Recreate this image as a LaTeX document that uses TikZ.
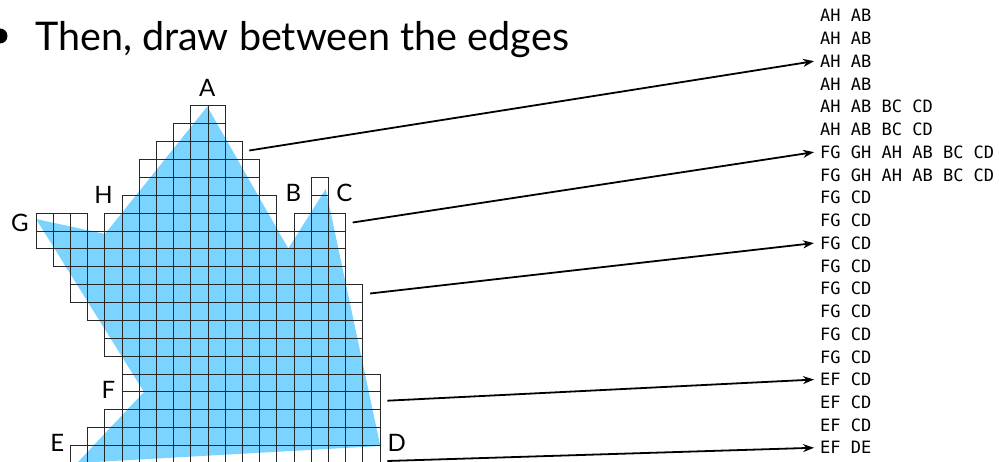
\documentclass[tikz,border=0pt]{standalone}
\usepackage{fontspec}
\setmainfont{Lato}
\newfontfamily\scanfont{DejaVu Sans Mono}
\usetikzlibrary{arrows.meta}
\definecolor{polyblue}{RGB}{122,212,255}
\definecolor{gridline}{RGB}{40,40,40}
\tikzset{
    cell/.style={draw=gridline, line width=1pt},
    vlabel/.style={font=\fontsize{24}{24}\selectfont, inner sep=0pt},
    scanrow/.style={font=\scanfont\fontsize{17}{17}\selectfont, anchor=base west, inner xsep=6pt, inner ysep=0pt},
    scanarrow/.style={-{Stealth[length=11pt,width=8pt]}, line width=1.8pt}
}

\begin{document}
\begin{tikzpicture}[x=1pt, y=-1pt]
    \useasboundingbox (0,0) rectangle (999,462);
    \fill (0,36) circle (7.5);
    \node[anchor=base west, inner sep=0pt, font=\fontsize{39.5}{40}\selectfont] (title) at (35,50.7)
        {Then, draw between the edges};
    \coordinate (A) at (207.3,106.5);
    \coordinate (B) at (288.3,248.5);
    \coordinate (C) at (325.7,189);
    \coordinate (D) at (380.3,446);
    \coordinate (E) at (77,463);
    \coordinate (F) at (144,392);
    \coordinate (G) at (36,219);
    \coordinate (H) at (105,234);
    \fill[polyblue] (A) -- (B) -- (C) -- (D) -- (E) -- (F) -- (G) -- (H) -- cycle;
    \foreach \r/\a/\b in {0/9/10, 1/8/10, 2/7/11, 3/6/12, 4/6/12, 4/16/16, 5/5/13, 5/16/16,
        6/0/2, 6/4/13, 6/15/17, 7/0/17, 8/1/17, 9/2/17, 10/2/18, 11/3/18, 12/4/18,
        13/4/18, 14/5/18, 15/5/19, 16/5/19, 17/4/19, 18/3/19, 19/2/19}
        \foreach \c in {\a,...,\b}
            \draw[cell] ({36+17.2*\c},{106+17.87*\r}) rectangle ++(17.2,17.87);
    \node[vlabel] (lA) at (207.3,87.5) {A};
    \node[vlabel] (lB) at (293.3,193.3) {B};
    \node[vlabel] (lC) at (344.3,192.5) {C};
    \node[vlabel] (lD) at (396.7,442.7) {D};
    \node[vlabel] (lE) at (57.3,443.3) {E};
    \node[vlabel] (lF) at (108.3,390) {F};
    \node[vlabel] (lG) at (20,223) {G};
    \node[vlabel] (lH) at (103.5,195) {H};
    \foreach \t [count=\i from 0] in {AH AB, AH AB, AH AB, AH AB, AH AB BC CD, AH AB BC CD,
        FG GH AH AB BC CD, FG GH AH AB BC CD, FG CD, FG CD, FG CD, FG CD, FG CD, FG CD,
        FG CD, FG CD, EF CD, EF CD, EF CD, EF DE}
        \node[scanrow] (row\i) at (814,{21.9+22.74*\i}) {\t};
    \foreach \r/\sx/\sy in {2/249.3/150.5, 6/352.7/222.5, 10/370/293.5, 16/387.3/400.7, 19/387.3/461}{
        \coordinate (s\r) at (\sx,\sy);
        \draw[scanarrow] (s\r) -- (row\r.west);
    }
\end{tikzpicture}
\end{document}
